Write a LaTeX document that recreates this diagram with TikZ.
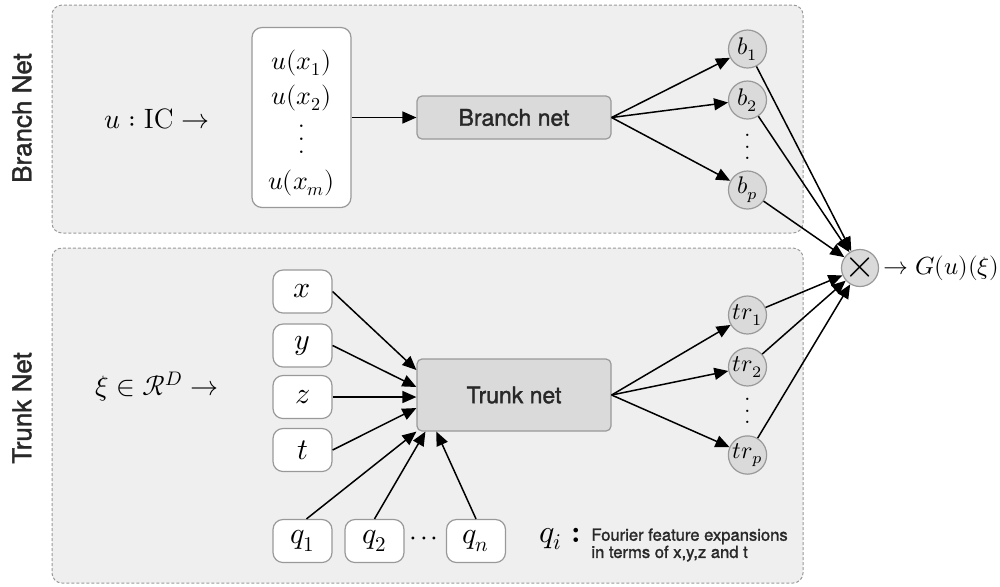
\documentclass[tikz,border=0pt]{standalone}
\usepackage{amsmath}
\usepackage{fontspec}
\usepackage{unicode-math}
\setmathfont{Latin Modern Math}
\usetikzlibrary{arrows.meta,calc}
\newfontfamily\hvfont{TeX Gyre Heros}[FakeBold=1.5]
\definecolor{panel_gray}{RGB}{239, 239, 239}
\definecolor{node_gray}{RGB}{218, 218, 218}
\definecolor{edge_gray}{RGB}{153, 153, 153}
\definecolor{text_gray}{RGB}{40, 40, 40}
\newcommand{\colvdots}[1]{\vbox{\baselineskip#1\lineskiplimit0pt\hbox{.}\hbox{.}\hbox{.}}}
\tikzstyle{pn}=[fill=panel_gray,draw=edge_gray,line width=0.5pt,
  dash pattern=on 1.5pt off 1pt,rounded corners=5pt]
\tikzstyle{ib}=[rectangle,rounded corners=5pt,fill=white,draw=edge_gray,
  line width=0.6pt,inner sep=0pt,minimum width=29.5pt,minimum height=21.5pt,
  font=\fontsize{15}{17}\selectfont]
\tikzstyle{nb}=[rectangle,rounded corners=2.5pt,fill=node_gray,draw=edge_gray,
  line width=0.6pt,inner sep=0pt,minimum width=97pt,minimum height=21.5pt,
  font=\hvfont\fontsize{11.5}{13}\selectfont,text=text_gray]
\tikzstyle{cn}=[circle,fill=node_gray,draw=edge_gray,line width=0.6pt,
  inner sep=0pt,minimum size=19pt,font=\fontsize{12}{14}\selectfont]
\tikzstyle{sn}=[rotate=90,font=\hvfont\fontsize{13}{15}\selectfont,text=text_gray]
\tikzstyle{lb}=[font=\fontsize{14}{16}\selectfont]
\tikzstyle{ar}=[-{Triangle[length=7pt,width=6pt]},line width=0.75pt]
\tikzstyle{none}=[inner sep=0pt]
\begin{document}
\begin{tikzpicture}[x=0.5pt,y=-0.5pt]
            \useasboundingbox (0, 0) rectangle (1000, 586);
            \draw [style=pn] (52, 5) rectangle (803, 233);
            \draw [style=pn] (52, 248) rectangle (803, 583);
            \node [style=sn] (0) at (22, 118) {Branch Net};
            \node [style=sn] (1) at (22, 408) {Trunk Net};
            \node [style=lb] (2) at (157, 119) {$u:\mathrm{IC}\to$};
            \node [style=ib, minimum width=49.5pt, minimum height=90pt] (3) at (301.5, 117.5) {};
            \node [style=lb, font=\fontsize{13}{15}\selectfont] (4) at (301.5, 63) {$u(x_1)$};
            \node [style=lb, font=\fontsize{13}{15}\selectfont] (5) at (301.5, 98) {$u(x_2)$};
            \node [style=none] (6) at (301.5, 139) {\fontsize{13}{15}\selectfont\colvdots{6.5pt}};
            \node [style=lb, font=\fontsize{13}{15}\selectfont] (7) at (301.5, 183) {$u(x_m)$};
            \node [style=nb] (8) at (514, 117.5) {Branch net};
            \node [style=cn] (9) at (747.5, 49) {$b_1$};
            \node [style=cn] (10) at (747.5, 100) {$b_2$};
            \node [style=none] (11) at (747.5, 147) {\fontsize{12}{14}\selectfont\colvdots{5.75pt}};
            \node [style=cn] (12) at (747.5, 190) {$b_p$};
            \node [style=cn, minimum size=18.5pt, font=\fontsize{20}{20}\selectfont] (13) at (860, 268) {$\times$};
            \node [style=lb, anchor=west, inner sep=0pt, font=\fontsize{12.4}{15}\selectfont] (14) at (883, 268) {$\to G(u)(\xi)$};
            \node [style=lb] (15) at (157, 387) {$\xi\in\mathcal{R}^D\to$};
            \node [style=ib] (16) at (302.5, 291.5) {$x$};
            \node [style=ib] (17) at (302.5, 345.5) {$y$};
            \node [style=ib] (18) at (302.5, 397) {$z$};
            \node [style=ib] (19) at (302.5, 450) {$t$};
            \node [style=ib] (20) at (302.5, 541) {$q_1$};
            \node [style=ib] (21) at (374.5, 541) {$q_2$};
            \node [style=lb] (22) at (424, 541) {${\cdot}\mkern1.5mu{\cdot}\mkern1.5mu{\cdot}$};
            \node [style=ib] (23) at (476, 541) {$q_n$};
            \node [style=nb, minimum height=36pt] (24) at (514, 395) {Trunk net};
            \node [style=cn] (25) at (747.5, 315) {$tr_1$};
            \node [style=cn] (26) at (747.5, 367) {$tr_2$};
            \node [style=none] (27) at (747.5, 411) {\fontsize{12}{14}\selectfont\colvdots{5.75pt}};
            \node [style=cn] (28) at (747.5, 455) {$tr_p$};
            \node [style=lb, font=\fontsize{16}{18}\selectfont] (29) at (560, 539) {$q_i$\;\textbf{:}};
            \node [style=none, anchor=west, align=left, text=text_gray,
              font=\hvfont\fontsize{8.3}{8.6}\selectfont] (30) at (591, 545) {Fourier feature expansions\\in terms of x,y,z and t};
            \draw [style=ar] (3.east) to (8.west);
            \draw [style=ar] (8.east) to (9);
            \draw [style=ar] (8.east) to (10);
            \draw [style=ar] (8.east) to (12);
            \draw [style=ar] (9) to (13);
            \draw [style=ar] (10) to (13);
            \draw [style=ar] (12) to (13);
            \draw [style=ar] (16.east) to ([yshift=12.5pt]24.west);
            \draw [style=ar] (17.east) to ([yshift=4pt]24.west);
            \draw [style=ar] (18.east) to ([yshift=-1pt]24.west);
            \draw [style=ar] (19.east) to ([yshift=-6.5pt]24.west);
            \draw [style=ar] ([xshift=2pt]20.north) to (24.south west);
            \draw [style=ar] (21.north) to ([xshift=4.5pt]24.south west);
            \draw [style=ar] (23.north) to ([xshift=10pt]24.south west);
            \draw [style=ar] (24.east) to (25);
            \draw [style=ar] (24.east) to (26);
            \draw [style=ar] (24.east) to (28);
            \draw [style=ar] (25) to (13);
            \draw [style=ar] (26) to (13);
            \draw [style=ar] (28) to (13);
    \end{tikzpicture}
\end{document}
